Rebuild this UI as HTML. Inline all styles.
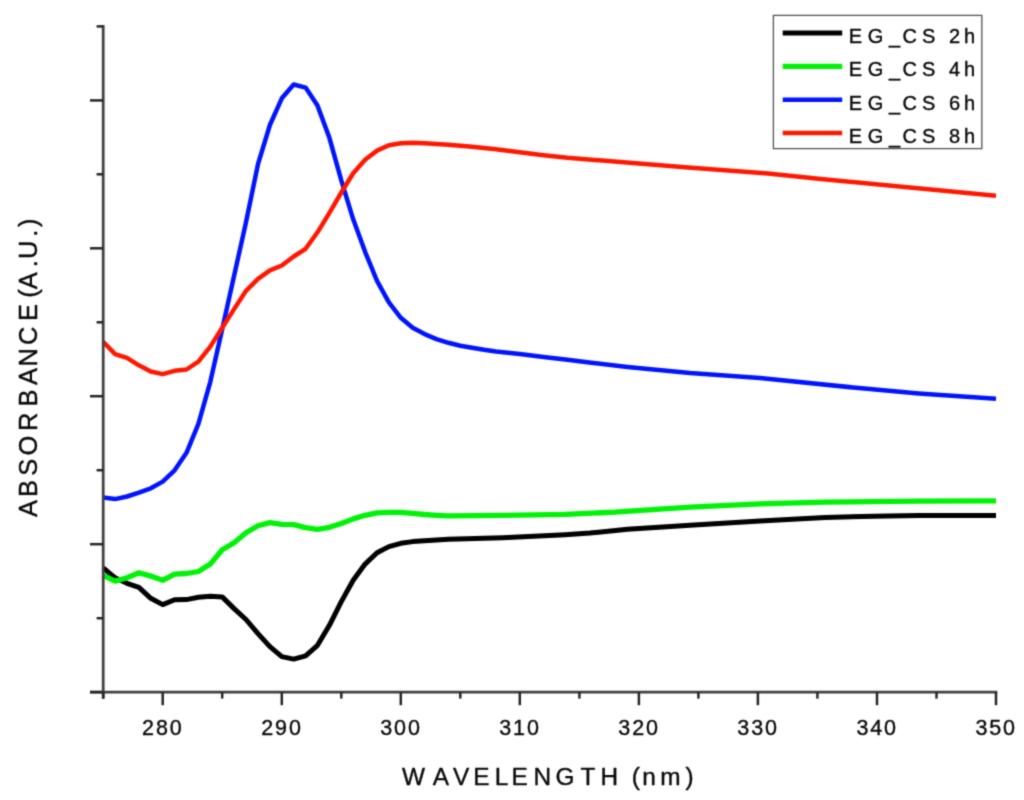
<!DOCTYPE html>
<html><head><meta charset="utf-8"><title>Absorbance vs wavelength</title>
<style>
html,body{margin:0;padding:0;background:#fff;}
svg{display:block}
text{font-family:"Liberation Sans",sans-serif;fill:#0a0a0a;stroke:#0a0a0a;stroke-width:0.38px;stroke-linejoin:round;}
</style></head><body>
<svg width="1024" height="800" viewBox="0 0 1024 800">
<defs><filter id="soft" color-interpolation-filters="sRGB" x="0" y="0" width="1024" height="800" filterUnits="userSpaceOnUse"><feConvolveMatrix order="3" kernelMatrix="0.0289 0.1122 0.0289 0.1122 0.4356 0.1122 0.0289 0.1122 0.0289" divisor="1" edgeMode="duplicate" preserveAlpha="false"/></filter></defs>
<rect width="1024" height="800" fill="#fff"/>
<g filter="url(#soft)">

<g fill="none" stroke-linejoin="round" stroke-linecap="butt" transform="translate(0,0.3)">
<path stroke="#000" stroke-width="5.0" d="M103.2 567.5 L115.1 577.5 L127.0 583.0 L138.9 587.0 L150.8 598.0 L162.7 604.3 L174.6 599.5 L186.5 599.3 L198.4 597.0 L210.3 596.0 L222.2 596.6 L234.1 608.3 L246.0 619.2 L258.0 633.3 L269.9 646.3 L281.8 656.3 L293.7 658.8 L305.6 655.5 L317.5 645.0 L329.4 625.0 L341.3 601.3 L353.2 580.0 L365.1 563.8 L377.0 552.5 L388.9 546.3 L400.8 543.0 L412.7 541.3 L424.6 540.5 L436.5 539.6 L448.4 539.0 L502.5 537.5 L565.0 534.4 L590.0 532.8 L627.5 529.0 L690.0 525.0 L760.0 520.8 L825.0 517.2 L887.5 515.6 L918.8 515.3 L996.0 515.3"/>
<path stroke="#00f206" stroke-width="5.3" d="M103.2 575.0 L115.1 580.8 L127.0 577.5 L138.9 572.5 L150.8 575.8 L162.7 580.0 L174.6 573.8 L186.5 573.2 L198.4 571.2 L210.3 563.8 L222.2 549.5 L234.1 542.5 L246.0 532.5 L258.0 525.5 L269.9 522.3 L281.8 524.0 L293.7 524.3 L305.6 527.3 L317.5 529.0 L329.4 527.0 L341.3 523.2 L353.2 518.6 L365.1 515.0 L377.0 512.5 L388.9 512.0 L400.8 512.0 L412.7 513.0 L424.6 514.2 L436.5 515.0 L448.4 515.6 L502.5 515.0 L565.0 514.0 L615.0 511.9 L690.0 506.9 L760.0 503.5 L825.0 501.9 L918.8 500.9 L996.0 500.6"/>
<path stroke="#0014ff" stroke-width="4.5" d="M103.2 497.2 L115.1 498.8 L127.0 496.2 L138.9 492.3 L150.8 488.0 L162.7 481.3 L174.6 470.0 L186.5 452.5 L198.4 423.5 L210.3 381.5 L222.2 329.0 L234.1 275.5 L246.0 222.0 L258.0 163.8 L269.9 124.7 L281.8 98.0 L293.7 84.2 L305.6 87.3 L317.5 105.3 L329.4 137.5 L341.3 180.0 L353.2 219.0 L365.1 251.5 L377.0 280.5 L388.9 302.0 L400.8 317.5 L412.7 327.5 L424.6 333.8 L436.5 338.8 L448.4 342.5 L460.3 345.5 L472.2 347.5 L484.1 349.5 L496.0 351.2 L507.9 352.5 L519.8 353.8 L543.6 356.8 L567.5 359.5 L591.3 362.5 L627.5 366.6 L690.0 372.8 L760.0 377.8 L856.2 387.5 L918.8 393.1 L996.0 398.4"/>
<path stroke="#ff1800" stroke-width="4.5" d="M103.2 341.5 L115.1 353.8 L127.0 357.6 L138.9 365.0 L150.8 371.2 L162.7 373.8 L174.6 370.5 L186.5 369.2 L198.4 361.3 L210.3 346.3 L222.2 327.5 L234.1 308.8 L246.0 290.5 L258.0 278.5 L269.9 270.0 L281.8 265.2 L293.7 256.2 L305.6 248.5 L317.5 232.0 L329.4 212.5 L341.3 192.2 L353.2 173.0 L365.1 159.5 L377.0 150.3 L388.9 145.0 L400.8 143.0 L412.7 142.5 L424.6 143.0 L436.5 143.8 L448.4 144.5 L460.3 145.5 L472.2 146.5 L496.0 149.0 L519.8 152.0 L543.6 155.0 L567.5 157.5 L685.0 167.0 L768.0 173.3 L816.0 178.2 L996.0 195.5"/>
</g>
<g stroke="#424242" stroke-width="2.8" fill="none" stroke-linecap="butt">
<path d="M103.2 25.1 V698.7"/>
<path d="M90.0 692.2 H997.3"/>
</g>
<g stroke="#262626" stroke-width="2.5" fill="none">
<path d="M103.2 692.2 V698.6"/>
<path d="M162.7 692.2 V705.2"/>
<path d="M222.2 692.2 V698.6"/>
<path d="M281.8 692.2 V705.2"/>
<path d="M341.3 692.2 V698.6"/>
<path d="M400.8 692.2 V705.2"/>
<path d="M460.3 692.2 V698.6"/>
<path d="M519.8 692.2 V705.2"/>
<path d="M579.4 692.2 V698.6"/>
<path d="M638.9 692.2 V705.2"/>
<path d="M698.4 692.2 V698.6"/>
<path d="M757.9 692.2 V705.2"/>
<path d="M817.4 692.2 V698.6"/>
<path d="M877.0 692.2 V705.2"/>
<path d="M936.5 692.2 V698.6"/>
<path d="M996.0 692.2 V705.2"/>
<path d="M96.6 26.4 H103.2"/>
<path d="M90.0 100.4 H103.2"/>
<path d="M96.6 174.3 H103.2"/>
<path d="M90.0 248.3 H103.2"/>
<path d="M96.6 322.3 H103.2"/>
<path d="M90.0 396.2 H103.2"/>
<path d="M96.6 470.2 H103.2"/>
<path d="M90.0 544.2 H103.2"/>
<path d="M96.6 618.2 H103.2"/>
<path d="M90.0 692.1 H103.2"/>
</g>
<rect x="773.4" y="15.4" width="208.4" height="133.2" fill="#fff" stroke="#555" stroke-width="1.3"/>
<path d="M782.7 33.0 H842.2" stroke="#000" stroke-width="5.1" fill="none"/>
<path d="M782.7 66.4 H842.2" stroke="#00f206" stroke-width="5.1" fill="none"/>
<path d="M782.7 99.7 H842.2" stroke="#0014ff" stroke-width="4.5" fill="none"/>
<path d="M782.7 133.0 H842.2" stroke="#ff1800" stroke-width="4.5" fill="none"/>
<text font-size="20" y="42.8" x="848.8 867.8 889.0 902.5 922.1 928.1 948.9 963.9">EG_CS 2h</text>
<text font-size="20" y="76.2" x="848.8 867.8 889.0 902.5 922.1 928.1 948.9 963.9">EG_CS 4h</text>
<text font-size="20" y="109.5" x="848.8 867.8 889.0 902.5 922.1 928.1 948.9 963.9">EG_CS 6h</text>
<text font-size="20" y="142.8" x="848.8 867.8 889.0 902.5 922.1 928.1 948.9 963.9">EG_CS 8h</text>
<text font-size="21.5" y="734.9" x="162.7" text-anchor="middle" letter-spacing="1.9" dx="0.2">280</text>
<text font-size="21.5" y="734.9" x="281.8" text-anchor="middle" letter-spacing="1.9" dx="0.2">290</text>
<text font-size="21.5" y="734.9" x="400.8" text-anchor="middle" letter-spacing="1.9" dx="0.2">300</text>
<text font-size="21.5" y="734.9" x="519.8" text-anchor="middle" letter-spacing="1.9" dx="0.2">310</text>
<text font-size="21.5" y="734.9" x="638.9" text-anchor="middle" letter-spacing="1.9" dx="0.2">320</text>
<text font-size="21.5" y="734.9" x="757.9" text-anchor="middle" letter-spacing="1.9" dx="0.2">330</text>
<text font-size="21.5" y="734.9" x="877.0" text-anchor="middle" letter-spacing="1.9" dx="0.2">340</text>
<text font-size="21.5" y="734.9" x="996.0" text-anchor="middle" letter-spacing="1.9" dx="0.2">350</text>
<text font-size="24.4" y="784.7" x="402.1 432.8 452.9 473.2 494.7 511.5 533.5 555.6 580.6 600.5 607.8 631.8 642.2 660.3 685.4">WAVELENGTH (nm)</text>
<text font-size="25.5" transform="rotate(-90)" y="37.2" x="-517.1 -497.0 -475.7 -455.6 -430.9 -406.5 -385.1 -366.6 -345.1 -321.0 -313.3 -297.8 -289.3 -267.2 -258.9 -236.7 -227.1">ABSORBANCE (A.U.)</text>
</g>
</svg></body></html>
